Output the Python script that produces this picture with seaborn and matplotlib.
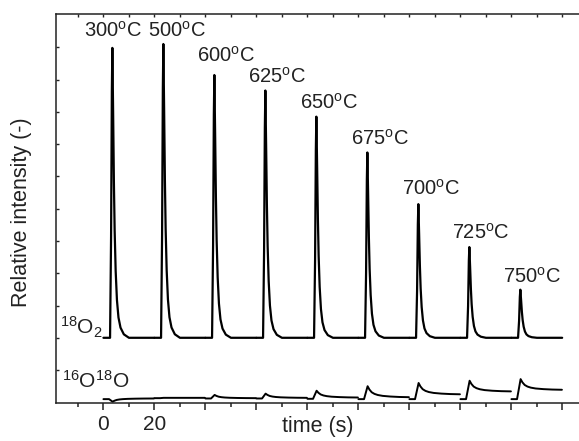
import numpy as np
import pandas as pd
import matplotlib
matplotlib.use("Agg")
import matplotlib.pyplot as plt
import seaborn as sns
from matplotlib.ticker import MultipleLocator, FixedLocator, NullFormatter

# ---- data -------------------------------------------------------------
temperatures = ["300", "500", "600", "625", "650", "675", "700", "725", "750"]
pulse_period = 20.0          # s between successive pulses
peak_time = 3.5              # s after the start of each pulse window

# 18O2 peak maxima (relative units, baseline = 0)
o2_peak = [8.98, 9.10, 8.14, 7.66, 6.85, 5.74, 4.14, 2.81, 1.49]

# 16O18O trace: level at window start, value at the bump, level at window end
mix_start = [-1.90, -1.87, -1.88, -1.88, -1.89, -1.90, -1.90, -1.90, -1.90]
mix_bump = [-1.98, -1.86, -1.77, -1.73, -1.64, -1.50, -1.40, -1.33, -1.28]
mix_end = [-1.88, -1.86, -1.87, -1.86, -1.85, -1.84, -1.75, -1.66, -1.61]

# normalised 18O2 pulse response within one window
o2_shape_t = [0, 2.6, 3.0, 3.3, 3.5, 3.8, 4.1, 4.4, 4.8, 5.3, 5.9, 6.7, 8.0, 10.0, 19.9]
o2_shape_v = [0, 0, 0.35, 0.85, 1.0, 0.78, 0.54, 0.37, 0.23, 0.13, 0.07, 0.035, 0.012, 0, 0]

# normalised 16O18O response: bump fraction and start->end plateau weight
mix_shape_t = [0, 2.2, 3.6, 4.3, 5.2, 6.3, 7.6, 9.5, 12.5, 16.0, 19.8]
mix_shape_f = [0, 0, 1.0, 0.7, 0.45, 0.30, 0.20, 0.12, 0.06, 0.02, 0]
mix_shape_p = [0, 0, 1, 1, 1, 1, 1, 1, 1, 1, 1]

x_ticklabels = {0: "0", 20: "20"}

# label placement around each peak (pixels)
label_dx = [1, 14, 12, 12, 13, 13, 13, 11, 12]
label_dy = [11, 7, 13, 8, 8, 8, 9, 8, 7]

# ---- build long-form tables ----------------------------------------------
rows = []
for k, h in enumerate(o2_peak):
    for t, v in zip(o2_shape_t, o2_shape_v):
        rows.append({"time": k * pulse_period + t, "signal": h * v, "seg": k})
df_o2 = pd.DataFrame(rows)

rows = []
for k in range(len(temperatures)):
    s, b, e = mix_start[k], mix_bump[k], mix_end[k]
    for t, f, p in zip(mix_shape_t, mix_shape_f, mix_shape_p):
        rows.append({"time": k * pulse_period + t,
                     "signal": s + p * (e - s) + f * (b - e), "seg": k})
df_mix = pd.DataFrame(rows)

# ---- style ----------------------------------------------------------------
sns.set_style("ticks")
plt.rcParams["font.family"] = ["Liberation Sans", "DejaVu Sans"]
plt.rcParams["mathtext.fontset"] = "custom"
plt.rcParams["mathtext.rm"] = "Liberation Sans"
plt.rcParams["mathtext.it"] = "Liberation Sans:italic"
plt.rcParams["mathtext.bf"] = "Liberation Sans:bold"
ink = "#222222"

W, H = 579, 441
fig = plt.figure(figsize=(W / 100, H / 100), dpi=100)
ax = fig.add_axes([56 / W, 1 - 403 / H, 523 / W, 389 / H])

sns.lineplot(data=df_o2, x="time", y="signal", units="seg", estimator=None,
             sort=False, color="black", lw=1.6, ax=ax)
sns.lineplot(data=df_mix, x="time", y="signal", units="seg", estimator=None,
             sort=False, color="black", lw=1.4, ax=ax)

ax.set_xlim(-18.6, 186.5)
ax.set_ylim(-2.02, 10.03)

# axes frame
for side in ("left", "bottom", "top"):
    ax.spines[side].set_linewidth(1.1)
    ax.spines[side].set_color(ink)
ax.spines["right"].set_visible(False)

# x ticks: majors every 20 s (only first two labelled), minors every 10 s
ax.xaxis.set_major_locator(MultipleLocator(20))
ax.xaxis.set_minor_locator(MultipleLocator(10))
ax.xaxis.set_major_formatter(plt.FuncFormatter(lambda v, pos: x_ticklabels.get(int(round(v)), "")))
ax.tick_params(axis="x", which="major", direction="out", length=5, width=1.1,
               color=ink, labelsize=15, labelcolor=ink, pad=4)
ax.tick_params(axis="x", which="minor", direction="out", length=2.8, width=1.1, color=ink)

# y ticks: short inward marks without labels
ax.yaxis.set_major_locator(FixedLocator(list(range(-1, 10))))
ax.yaxis.set_major_formatter(NullFormatter())
ax.tick_params(axis="y", which="major", direction="in", length=2.2, width=1, color=ink)

# small inward ticks along the top edge
top = ax.secondary_xaxis("top")
top.xaxis.set_major_locator(MultipleLocator(10))
top.xaxis.set_major_formatter(NullFormatter())
top.tick_params(direction="in", length=2.2, width=1, color=ink)
top.spines["top"].set_visible(False)

ax.set_xlabel("time (s)", fontsize=15.5, color=ink)
ax.xaxis.set_label_coords(0.5, -0.033)
ax.set_ylabel("Relative intensity (-)", fontsize=15.5, color=ink)
ax.yaxis.set_label_coords(-0.046, 0.49)

# temperature annotations above each 18O2 peak
for k, (lab, h) in enumerate(zip(temperatures, o2_peak)):
    ax.annotate(lab + r"$^{\mathrm{o}}$C",
                xy=(k * pulse_period + peak_time, h),
                xytext=(label_dx[k], label_dy[k]), textcoords="offset pixels",
                ha="center", va="baseline", fontsize=14.5, color=ink)

# species names at the left of each trace
trans = matplotlib.transforms.blended_transform_factory(ax.transAxes, ax.transData)
ax.text(0.008, 0.09, r"$^{18}$O$_2$", transform=trans, ha="left", va="baseline",
        fontsize=15, color=ink)
ax.text(0.011, -1.55, r"$^{16}$O$^{18}$O", transform=trans, ha="left", va="baseline",
        fontsize=15, color=ink)

fig.savefig("out.png", dpi=100)
